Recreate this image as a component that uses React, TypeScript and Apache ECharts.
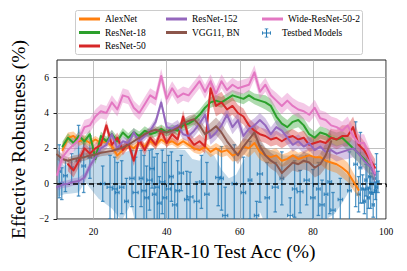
import React, { useEffect, useRef } from 'react';
import * as echarts from 'echarts';

// CIFAR-10 test accuracy grid (%) shared by the model curves
const accGrid = [
  10, 11.5, 13, 14.5, 16, 17.5, 19, 20.5, 22, 23.5,
  25, 26.5, 28, 29.5, 31, 32.5, 34, 35.5, 37, 38.5,
  40, 41.5, 43, 44.5, 46, 47.5, 49, 50.5, 52, 53.5,
  55, 56.5, 58, 59.5, 61, 62.5, 64, 65.5, 67, 68.5,
  70, 71.5, 73, 74.5, 76, 77.5, 79, 80.5, 82, 83.5,
  85, 86.5, 88, 89.5, 91, 92.5, 94, 95.5, 97,
];

const alexnetEffRob = [
  null, 1.9, 2.6, 2.7, 2.4, 2.5, 2.3, 2.5, 2.3, 2.4,
  2.1, 1.6, 1.9, 2.2, 2.0, 2.3, 2.1, 2.4, 2.2, 2.5,
  2.3, 2.4, 2.2, 2.4, 2.2, 2.0, 1.9, 2.1, 1.8, 2.0,
  1.8, 1.9, 1.6, 1.7, 2.1, 2.0, 2.3, 1.8, 1.6, 1.5,
  1.6, 1.3, 1.4, 1.6, 1.4, 1.5, 1.6, 1.5, 1.5, 1.3,
  1.2, 1.1, 0.9, 0.65, 0.15, -0.35, null, null, null,
];
const alexnetCI = [
  null, 0.4, 0.3, 0.25, 0.25, 0.25, 0.2, 0.2, 0.2, 0.2,
  0.2, 0.3, 0.2, 0.2, 0.2, 0.2, 0.2, 0.2, 0.2, 0.2,
  0.2, 0.2, 0.2, 0.2, 0.2, 0.25, 0.25, 0.25, 0.3, 0.3,
  0.3, 0.3, 0.35, 0.4, 0.45, 0.5, 0.5, 0.45, 0.4, 0.4,
  0.4, 0.35, 0.35, 0.35, 0.35, 0.35, 0.4, 0.4, 0.4, 0.45,
  0.5, 0.5, 0.55, 0.55, 0.5, 0.45, null, null, null,
];

const resnet18EffRob = [
  null, 2.1, 2.6, 2.3, 2.7, 2.4, 2.8, 1.4, 2.7, 2.4,
  2.8, 2.4, 2.9, 2.6, 2.9, 2.7, 3.0, 2.8, 2.9, 3.1,
  2.9, 3.1, 3.0, 3.3, 3.4, 3.6, 3.9, 4.3, 4.6, 4.7,
  4.6, 4.8, 5.0, 4.9, 4.8, 5.0, 4.8, 4.7, 4.6, 4.4,
  3.8, 3.4, 3.2, 3.5, 3.6, 3.3, 2.8, 2.6, 2.9, 2.8,
  2.6, 2.5, 2.6, 2.3, 2.0, 1.7, 1.4, 1.0, 0.6,
];
const resnet18CI = [
  null, 0.3, 0.25, 0.25, 0.25, 0.25, 0.25, 0.3, 0.25, 0.25,
  0.25, 0.25, 0.25, 0.25, 0.25, 0.25, 0.25, 0.25, 0.25, 0.25,
  0.25, 0.25, 0.25, 0.3, 0.3, 0.3, 0.3, 0.3, 0.3, 0.3,
  0.3, 0.3, 0.3, 0.3, 0.3, 0.3, 0.3, 0.35, 0.4, 0.4,
  0.45, 0.45, 0.4, 0.4, 0.4, 0.4, 0.4, 0.35, 0.35, 0.35,
  0.4, 0.4, 0.4, 0.45, 0.5, 0.5, 0.5, 0.5, 0.5,
];

const resnet50EffRob = [
  null, null, 1.1, 0.75, 1.3, 2.0, 1.7, 2.0, 2.2, 3.3,
  2.2, 2.6, 1.9, 2.3, 1.3, 2.5, 1.9, 2.6, 2.2, 3.0,
  2.3, 2.8, 2.5, 3.8, 2.6, 2.2, 2.4, 2.1, 5.4, 4.4,
  4.6, 4.2, 4.4, 4.0, 3.8, 3.3, 3.0, 2.8, 2.7, 2.5,
  2.6, 2.4, 2.6, 2.7, 2.5, 2.6, 2.2, 2.3, 2.4, 2.3,
  2.6, 2.5, 2.7, 2.7, 3.2, 2.2, 1.9, 1.4, 0.9,
];
const resnet50CI = [
  null, null, 0.4, 0.4, 0.35, 0.3, 0.3, 0.3, 0.3, 0.3,
  0.3, 0.3, 0.3, 0.3, 0.3, 0.3, 0.3, 0.3, 0.3, 0.3,
  0.3, 0.3, 0.3, 0.35, 0.35, 0.35, 0.4, 0.4, 0.6, 0.6,
  0.6, 0.5, 0.5, 0.45, 0.45, 0.4, 0.4, 0.4, 0.4, 0.4,
  0.4, 0.4, 0.4, 0.4, 0.4, 0.4, 0.4, 0.4, 0.4, 0.4,
  0.5, 0.55, 0.6, 0.6, 0.6, 0.6, 0.5, 0.5, 0.5,
];

const resnet152EffRob = [
  -0.2, -0.05, 0.0, 0.1, 0.15, 0.35, 1.0, 1.5, 2.0, 2.2,
  2.8, 2.0, 2.4, 2.3, 2.9, 2.4, 2.7, 3.0, 3.5, 4.6,
  3.2, 3.1, 3.3, 2.8, 2.7, 3.0, 3.4, 3.9, 2.6, 2.9,
  3.3, 3.9, 3.2, 3.6, 2.7, 3.1, 3.3, 3.6, 3.3, 2.8,
  3.2, 3.0, 2.6, 2.2, 2.4, 2.1, 2.3, 1.9, 2.1, 1.8,
  1.9, 1.7, 1.8, 1.9, 2.0, 1.7, 1.3, 1.0, 0.5,
];
const resnet152CI = [
  0.2, 0.2, 0.2, 0.2, 0.2, 0.25, 0.25, 0.25, 0.25, 0.25,
  0.25, 0.25, 0.25, 0.25, 0.25, 0.25, 0.25, 0.25, 0.25, 0.25,
  0.3, 0.3, 0.3, 0.3, 0.3, 0.35, 0.35, 0.4, 0.4, 0.4,
  0.4, 0.4, 0.4, 0.4, 0.4, 0.4, 0.4, 0.4, 0.4, 0.4,
  0.4, 0.4, 0.4, 0.4, 0.4, 0.4, 0.4, 0.4, 0.4, 0.4,
  0.45, 0.45, 0.45, 0.5, 0.5, 0.5, 0.5, 0.5, 0.5,
];

const vgg11bnEffRob = [
  1.65, 1.4, 1.3, 1.4, 1.45, 1.5, 1.6, 1.65, 1.75, 1.8,
  1.85, 1.95, 2.05, 2.2, 2.4, 2.6, 2.8, 2.95, 3.05, 2.95,
  2.9, 3.0, 3.15, 3.4, 3.55, 3.65, 3.3, 2.8, 3.0, 3.25,
  2.9, 2.4, 2.0, 1.6, 2.1, 2.5, 2.9, 2.1, 1.6, 1.3,
  1.1, 0.6, 0.9, 1.2, 1.1, 1.3, 1.2, 0.9, 1.1, 1.6,
  2.4, null, null, null, null, null, null, null, null,
];
const vgg11bnCI = [
  0.3, 0.25, 0.2, 0.2, 0.2, 0.2, 0.2, 0.2, 0.2, 0.2,
  0.2, 0.2, 0.2, 0.2, 0.2, 0.2, 0.2, 0.2, 0.2, 0.2,
  0.2, 0.2, 0.2, 0.25, 0.3, 0.3, 0.35, 0.4, 0.45, 0.5,
  0.5, 0.5, 0.5, 0.5, 0.5, 0.5, 0.5, 0.45, 0.45, 0.45,
  0.45, 0.45, 0.45, 0.45, 0.45, 0.5, 0.5, 0.55, 0.6, 0.7,
  0.8, null, null, null, null, null, null, null, null,
];

const wrn502EffRob = [
  0.5, 1.5, 1.9, 2.2, 2.5, 3.2, 3.3, 3.8, 4.1, 4.0,
  4.6, 4.2, 5.0, 4.9, 4.3, 4.0, 4.5, 5.0, 4.8, 6.1,
  4.8, 5.4, 4.9, 5.1, 5.0, 5.4, 5.8, 5.2, 5.8, 5.1,
  5.8, 5.3, 5.6, 5.4, 5.5, 5.6, 6.3, 5.2, 5.6, 5.0,
  4.7, 4.4, 4.7, 4.4, 4.2, 4.1, 3.9, 4.3, 3.7, 3.6,
  3.3, 3.2, 3.0, 3.3, 2.7, 2.3, 2.3, 1.5, 0.6,
];
const wrn502CI = [
  0.4, 0.4, 0.4, 0.4, 0.4, 0.4, 0.4, 0.4, 0.4, 0.4,
  0.4, 0.4, 0.4, 0.4, 0.4, 0.4, 0.4, 0.4, 0.4, 0.4,
  0.4, 0.4, 0.4, 0.4, 0.4, 0.4, 0.4, 0.4, 0.4, 0.4,
  0.4, 0.4, 0.4, 0.4, 0.4, 0.4, 0.4, 0.4, 0.4, 0.4,
  0.45, 0.45, 0.45, 0.45, 0.45, 0.45, 0.45, 0.45, 0.45, 0.45,
  0.5, 0.5, 0.5, 0.5, 0.5, 0.5, 0.5, 0.5, 0.5,
];

// Testbed models (x, y, x error, y error)
const testbedAcc = [
  10.6, 11.3, 12.3, 14.0, 15.9, 17.3, 19.0, 22.5, 24.5, 25.8,
  26.5, 27.7, 29.0, 30.5, 31.5, 33.0, 33.8, 34.5, 35.3, 36.0,
  36.6, 37.4, 38.0, 38.8, 39.5, 40.5, 41.3, 42.2, 43.0, 44.0,
  45.5, 46.4, 48.2, 49.5, 51.0, 54.1, 55.0, 56.0, 58.5, 61.0,
  62.8, 64.6, 65.5, 67.5, 69.7, 71.5, 73.8, 75.0, 76.5, 78.3,
  80.0, 81.5, 82.5, 83.6, 84.6, 85.5, 87.5, 90.0, 91.7, 92.5,
  93.0, 93.6, 94.1, 94.5, 94.8, 95.2, 95.5, 95.8, 96.2, 96.5,
  96.8, 97.1, 97.4, 97.8,
];
const testbedEffRob = [
  0.7, 0.0, 0.45, 0.9, 1.3, 1.0, 1.5, 0.0, -0.2, -0.3,
  -0.5, -0.2, -1.0, 0.3, -0.5, 0.3, -0.4, -0.8, 0.2, 0.85,
  -0.6, -0.2, -1.1, 0.1, -0.8, -0.3, 0.4, -1.2, -0.4, 0.6,
  -0.9, -0.75, -1.0, 0.1, -0.6, 0.35, 0.3, -1.8, 0.0, -0.5,
  0.2, -1.8, 0.55, -0.8, -0.2, 0.3, -1.8, -0.3, -0.45, 0.2,
  -0.8, -0.3, -1.2, -0.6, 0.1, -1.5, -0.9, -0.4, 1.1, -0.6,
  0.9, -0.3, -1.0, 0.2, -0.3, -0.8, 0.4, -0.5, 0.0, -1.2,
  0.3, -0.4, -0.2, 0.1,
];
const testbedAccErr = [
  0.4, 0.4, 0.5, 0.4, 0.6, 0.5, 0.5, 0.6, 0.8, 0.7,
  0.5, 0.6, 0.5, 0.6, 0.7, 0.5, 0.6, 0.5, 0.7, 0.6,
  0.5, 0.6, 0.5, 0.7, 0.5, 0.6, 0.5, 0.6, 0.5, 0.6,
  0.6, 0.8, 0.7, 0.5, 0.6, 0.7, 0.5, 0.7, 0.6, 0.6,
  0.5, 0.6, 0.7, 0.6, 0.8, 0.5, 0.7, 0.6, 0.8, 0.7,
  0.6, 0.5, 0.6, 0.5, 0.5, 0.6, 0.6, 0.5, 0.5, 0.4,
  0.4, 0.3, 0.3, 0.3, 0.4, 0.3, 0.3, 0.3, 0.3, 0.3,
  0.3, 0.3, 0.3, 0.3,
];
const testbedEffRobErr = [
  1.5, 0.9, 0.9, 0.8, 2.0, 1.5, 1.2, 1.0, 1.8, 1.8,
  1.7, 1.5, 1.3, 1.6, 2.0, 1.6, 2.0, 1.8, 1.7, 1.1,
  2.1, 1.9, 1.5, 1.8, 2.0, 1.9, 1.4, 1.2, 1.7, 1.0,
  1.6, 1.4, 1.1, 1.5, 1.8, 1.6, 1.8, 1.6, 2.2, 2.0,
  2.2, 0.8, 1.6, 2.0, 1.4, 1.5, 1.0, 1.6, 1.2, 1.4,
  1.6, 1.5, 1.4, 1.9, 1.8, 1.0, 1.2, 2.2, 2.4, 1.0,
  2.0, 0.8, 0.7, 0.9, 2.0, 0.6, 0.7, 0.9, 0.6, 0.7,
  0.8, 0.5, 1.9, 0.6,
];

// Testbed confidence region
const testbedBandAcc = [
  10, 12, 14, 15.9, 17.7, 20, 21.4, 23, 25, 27.7,
  29, 30.2, 31.5, 35, 40, 45, 47, 49, 50.5, 53,
  55, 57, 59, 61, 63, 64.6, 65.5, 67, 70, 72,
  73.8, 75.5, 78, 80, 83, 86, 88, 90, 91.5, 92.5,
];
const testbedBandUpper = [
  1.6, 1.0, 1.3, 3.2, 2.4, 2.0, 1.9, 1.8, 1.7, 1.7,
  1.8, 1.9, 1.9, 1.9, 2.0, 1.9, 1.4, 1.3, 1.9, 1.6,
  0.8, 0.3, 0.5, 1.3, 2.0, 2.6, 2.4, 2.0, 1.8, 1.6,
  1.6, 1.7, 1.6, 1.5, 1.4, 1.1, 0.8, 0.4, 0.1, -0.1,
];
const testbedBandLower = [
  -0.75, -0.6, -0.55, -0.5, 0.1, -0.5, -0.85, -1.1, -1.4, -2.1,
  -1.6, -1.2, -2.3, -2.5, -2.5, -2.5, -2.5, -2.5, -2.5, -2.5,
  -2.5, -2.4, -2.3, -2.4, -2.5, -2.3, -1.6, -2.3, -2.3, -2.3,
  -1.6, -2.3, -2.3, -2.2, -2.1, -1.7, -1.1, -0.4, -0.1, -0.1,
];

const xTicks = [20, 40, 60, 80, 100];
const yTicks = [-2, 0, 2, 4, 6];

const FONT = "'Liberation Serif', 'DejaVu Serif', serif";
const BLUE = '#1f77b4';

const models = [
  { name: 'AlexNet', color: '#ff7f0e', fill: 'rgba(255,127,14,0.38)', y: alexnetEffRob, ci: alexnetCI },
  { name: 'ResNet-18', color: '#2ca02c', fill: 'rgba(44,160,44,0.38)', y: resnet18EffRob, ci: resnet18CI },
  { name: 'ResNet-50', color: '#d62728', fill: 'rgba(214,39,40,0.38)', y: resnet50EffRob, ci: resnet50CI },
  { name: 'ResNet-152', color: '#9467bd', fill: 'rgba(148,103,189,0.38)', y: resnet152EffRob, ci: resnet152CI },
  { name: 'VGG11, BN', color: '#8c564b', fill: 'rgba(140,86,75,0.38)', y: vgg11bnEffRob, ci: vgg11bnCI },
  { name: 'Wide-ResNet-50-2', color: '#e377c2', fill: 'rgba(227,119,194,0.4)', y: wrn502EffRob, ci: wrn502CI },
];

function bandSeries(name: string, pts: number[][], fill: string, z: number) {
  return {
    type: 'custom',
    name,
    z,
    silent: true,
    clip: true,
    data: pts,
    dimensions: ['x', 'lo', 'hi'],
    encode: { x: 0, y: [1, 2] },
    renderItem: (params: any, api: any) => {
      if (params.dataIndex !== 0) return null;
      const up = pts.map((p) => api.coord([p[0], p[2]]));
      const lo = pts.map((p) => api.coord([p[0], p[1]])).reverse();
      return {
        type: 'polygon',
        shape: { points: up.concat(lo) },
        style: { fill, stroke: 'none' },
      };
    },
  };
}

function buildOption() {
  const series: any[] = [];

  const tbBand = testbedAcc.length
    ? testbedBandAcc.map((x, i) => [x, testbedBandLower[i], testbedBandUpper[i]])
    : [];
  series.push(bandSeries('testbed band', tbBand, 'rgba(31,119,180,0.28)', 1));

  const tbData = testbedAcc.map((x, i) => [x, testbedEffRob[i], testbedAccErr[i], testbedEffRobErr[i]]);
  series.push({
    type: 'custom',
    name: 'Testbed Models',
    z: 2,
    silent: true,
    clip: true,
    itemStyle: { color: BLUE },
    data: tbData,
    dimensions: ['x', 'y', 'xerr', 'yerr'],
    encode: { x: 0, y: 1 },
    renderItem: (params: any, api: any) => {
      const x = api.value(0);
      const y = api.value(1);
      const xe = api.value(2);
      const ye = api.value(3);
      const l = api.coord([x - xe, y]);
      const r = api.coord([x + xe, y]);
      const t = api.coord([x, y + ye]);
      const b = api.coord([x, y - ye]);
      const cap = 1.8;
      const style = { stroke: BLUE, lineWidth: 1.3, opacity: 0.75 };
      return {
        type: 'group',
        children: [
          { type: 'line', shape: { x1: l[0], y1: l[1], x2: r[0], y2: r[1] }, style },
          { type: 'line', shape: { x1: t[0], y1: t[1], x2: b[0], y2: b[1] }, style },
          { type: 'line', shape: { x1: t[0] - cap, y1: t[1], x2: t[0] + cap, y2: t[1] }, style },
          { type: 'line', shape: { x1: b[0] - cap, y1: b[1], x2: b[0] + cap, y2: b[1] }, style },
          { type: 'line', shape: { x1: l[0], y1: l[1] - cap, x2: l[0], y2: l[1] + cap }, style },
          { type: 'line', shape: { x1: r[0], y1: r[1] - cap, x2: r[0], y2: r[1] + cap }, style },
        ],
      };
    },
  });

  series.push({
    type: 'line',
    name: 'zero',
    z: 3,
    data: [],
    silent: true,
    markLine: {
      silent: true,
      symbol: 'none',
      label: { show: false },
      lineStyle: { color: '#000', width: 1.5, type: [5, 3] },
      data: [{ yAxis: 0 }],
    },
  });

  models.forEach((m) => {
    const pts: number[][] = [];
    accGrid.forEach((x, i) => {
      const v = m.y[i];
      const c = m.ci[i];
      if (v != null && c != null) pts.push([x, v - c, v + c]);
    });
    series.push(bandSeries(m.name + ' CI', pts, m.fill, 4));
  });

  models.forEach((m) => {
    const line: number[][] = [];
    accGrid.forEach((x, i) => {
      const v = m.y[i];
      if (v != null) line.push([x, v]);
    });
    series.push({
      type: 'line',
      name: m.name,
      z: 5,
      data: line,
      showSymbol: false,
      symbol: 'none',
      silent: true,
      itemStyle: { color: m.color },
      lineStyle: { color: m.color, width: 2, join: 'round', cap: 'round' },
    });
  });

  const legendBase = {
    orient: 'vertical',
    padding: 0,
    itemGap: 3.5,
    itemWidth: 21,
    itemHeight: 3,
    selectedMode: false,
    z: 6,
    textStyle: { fontFamily: FONT, fontSize: 9.5, color: '#000', lineHeight: 10 },
  };

  const plusIcon =
    'path://M4.4,0.8 H5.6 V4.4 H9.2 V5.6 H5.6 V9.2 H4.4 V5.6 H0.8 V4.4 H4.4 Z M3,0 H7 V0.9 H3 Z M3,9.1 H7 V10 H3 Z M0,3 H0.9 V7 H0 Z M9.1,3 H10 V7 H9.1 Z';

  return {
    animation: false,
    backgroundColor: '#fff',
    grid: {
      left: 57,
      top: 60,
      width: 329,
      height: 159,
      show: true,
      borderColor: '#222',
      borderWidth: 1,
      backgroundColor: 'transparent',
    },
    legend: [
      { ...legendBase, left: 79, top: 14, data: ['AlexNet', 'ResNet-18', 'ResNet-50'].map((n) => ({ name: n, icon: 'rect' })) },
      { ...legendBase, left: 166, top: 14, data: ['ResNet-152', 'VGG11, BN'].map((n) => ({ name: n, icon: 'rect' })) },
      { ...legendBase, left: 262, top: 14, data: [{ name: 'Wide-ResNet-50-2', icon: 'rect' }] },
      { ...legendBase, left: 262, top: 28, itemHeight: 9, data: [{ name: 'Testbed Models', icon: plusIcon }] },
    ],
    graphic: [
      {
        type: 'rect',
        z: 5,
        silent: true,
        shape: { x: 75.5, y: 10.5, width: 287, height: 44, r: 2 },
        style: { fill: 'rgba(255,255,255,0.85)', stroke: '#cccccc', lineWidth: 1 },
      },
    ],
    xAxis: {
      type: 'value',
      min: 10,
      max: 100,
      name: 'CIFAR-10 Test Acc (%)',
      nameLocation: 'middle',
      nameGap: 9,
      nameTextStyle: { fontFamily: FONT, fontSize: 19.5, color: '#000', verticalAlign: 'top' },
      axisLine: { show: false },
      axisTick: { show: true, length: 3.5, lineStyle: { color: '#222', width: 1 }, customValues: xTicks },
      axisLabel: { fontFamily: FONT, fontSize: 9.5, color: '#000', margin: 8, customValues: xTicks },
      splitLine: { show: true, lineStyle: { color: '#b0b0b0', width: 0.8 } },
    },
    yAxis: {
      type: 'value',
      min: -2,
      max: 7,
      name: 'Effective Robustness (%)',
      nameLocation: 'middle',
      nameGap: 28,
      nameTextStyle: { fontFamily: FONT, fontSize: 19.5, color: '#000' },
      axisLine: { show: false },
      axisTick: { show: true, length: 3.5, lineStyle: { color: '#222', width: 1 }, customValues: yTicks },
      axisLabel: {
        fontFamily: FONT,
        fontSize: 9.5,
        color: '#000',
        margin: 8,
        customValues: yTicks,
        formatter: (v: number) => String(v).replace('-', '\u2212'),
      },
      splitLine: { show: true, lineStyle: { color: '#b0b0b0', width: 0.8 } },
    },
    series,
  };
}

export default function App() {
  const ref = useRef<HTMLDivElement>(null);
  useEffect(() => {
    if (!ref.current) return;
    const chart = echarts.init(ref.current, null, { renderer: 'svg' });
    chart.setOption(buildOption() as any);
    return () => chart.dispose();
  }, []);
  return (
    <div
      ref={ref}
      style={{ position: 'fixed', left: 0, top: 0, width: 407, height: 271, background: '#fff' }}
    />
  );
}
